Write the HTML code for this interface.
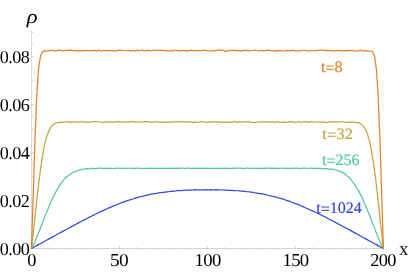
<!DOCTYPE html>
<html><head><meta charset="utf-8"><title>plot</title>
<style>
html,body{margin:0;padding:0;background:#fff;}
body{width:409px;height:273px;overflow:hidden;font-family:"Liberation Serif",serif;}
svg{display:block;will-change:transform;}
text{font-family:"Liberation Serif",serif;white-space:pre;text-rendering:geometricPrecision;}
</style></head><body>
<svg width="409" height="273" viewBox="0 0 409 273">
<rect width="409" height="273" fill="#ffffff"/>
<g fill="none">
<path stroke="#dadada" stroke-width="1" d="M31.50 30.3V248.00"/>
<path stroke="#d2d2d2" stroke-width="1" d="M31.00 248.50H383.80"/>
<path stroke="#a8a8a8" stroke-width="0.5" d="M31.50 248.50v-2.10M49.09 248.50v-1.30M66.69 248.50v-1.30M84.28 248.50v-1.30M101.88 248.50v-1.30M119.47 248.50v-2.10M137.07 248.50v-1.30M154.66 248.50v-1.30M172.26 248.50v-1.30M189.85 248.50v-1.30M207.45 248.50v-2.10M225.04 248.50v-1.30M242.64 248.50v-1.30M260.24 248.50v-1.30M277.83 248.50v-1.30M295.42 248.50v-2.10M313.02 248.50v-1.30M330.61 248.50v-1.30M348.21 248.50v-1.30M365.80 248.50v-1.30M383.40 248.50v-2.10M31.50 248.50h2.40M31.50 236.50h1.70M31.50 224.50h1.70M31.50 212.50h1.70M31.50 200.50h2.40M31.50 188.50h1.70M31.50 176.50h1.70M31.50 164.50h1.70M31.50 152.50h2.40M31.50 140.50h1.70M31.50 128.50h1.70M31.50 116.50h1.70M31.50 104.50h2.40M31.50 92.50h1.70M31.50 80.50h1.70M31.50 68.50h1.70M31.50 56.50h2.40M31.50 44.50h1.70M31.50 32.50h1.70"/>
</g>
<g fill="none" stroke-width="1.25" stroke-linejoin="round" stroke-linecap="round">
<path stroke="#3248e2" d="M31.50 248.50L33.26 247.54L35.02 246.57L36.78 245.61L38.54 244.65L40.30 243.68L42.06 242.72L43.82 241.75L45.58 240.80L47.34 239.82L49.09 238.86L50.85 237.89L52.61 236.92L54.37 235.98L56.13 235.00L57.89 234.05L59.65 233.07L61.41 232.10L63.17 231.15L64.93 230.19L66.69 229.27L68.45 228.28L70.21 227.37L71.97 226.34L73.73 225.42L75.49 224.54L77.25 223.64L79.01 222.59L80.77 221.72L82.53 220.76L84.28 219.90L86.04 218.94L87.80 218.06L89.56 217.12L91.32 216.26L93.08 215.31L94.84 214.52L96.60 213.58L98.36 212.78L100.12 211.91L101.88 211.17L103.64 210.36L105.40 209.44L107.16 208.75L108.92 207.93L110.68 207.16L112.44 206.44L114.20 205.65L115.96 205.02L117.72 204.30L119.47 203.51L121.23 202.93L122.99 202.20L124.75 201.57L126.51 200.90L128.27 200.36L130.03 199.91L131.79 199.28L133.55 198.73L135.31 198.11L137.07 197.65L138.83 197.22L140.59 196.69L142.35 196.29L144.11 195.80L145.87 195.42L147.63 194.96L149.39 194.63L151.15 194.23L152.91 193.95L154.66 193.58L156.42 193.33L158.18 192.99L159.94 192.74L161.70 192.50L163.46 192.28L165.22 192.04L166.98 191.77L168.74 191.75L170.50 191.33L172.26 191.40L174.02 191.08L175.78 190.94L177.54 190.73L179.30 190.63L181.06 190.53L182.82 190.42L184.58 190.26L186.34 190.07L188.10 190.13L189.85 190.23L191.61 190.04L193.37 189.93L195.13 189.67L196.89 189.92L198.65 189.86L200.41 189.76L202.17 189.76L203.93 189.86L205.69 189.69L207.45 189.85L209.21 189.77L210.97 189.67L212.73 189.87L214.49 189.83L216.25 189.71L218.01 189.88L219.77 189.98L221.53 190.00L223.29 189.95L225.04 190.19L226.80 190.20L228.56 190.34L230.32 190.41L232.08 190.33L233.84 190.54L235.60 190.68L237.36 190.75L239.12 190.97L240.88 191.15L242.64 191.16L244.40 191.35L246.16 191.66L247.92 191.75L249.68 191.92L251.44 192.21L253.20 192.46L254.96 192.83L256.72 193.04L258.48 193.44L260.24 193.56L261.99 193.96L263.75 194.21L265.51 194.70L267.27 194.98L269.03 195.52L270.79 195.86L272.55 196.24L274.31 196.70L276.07 197.19L277.83 197.77L279.59 198.10L281.35 198.67L283.11 199.18L284.87 199.75L286.63 200.41L288.39 200.97L290.15 201.46L291.91 202.28L293.67 202.87L295.42 203.59L297.18 204.16L298.94 204.94L300.70 205.72L302.46 206.43L304.22 207.21L305.98 208.02L307.74 208.81L309.50 209.52L311.26 210.34L313.02 211.10L314.78 211.97L316.54 212.77L318.30 213.56L320.06 214.54L321.82 215.41L323.58 216.21L325.34 217.05L327.10 218.07L328.86 219.00L330.61 219.86L332.37 220.79L334.13 221.68L335.89 222.66L337.65 223.57L339.41 224.51L341.17 225.49L342.93 226.43L344.69 227.33L346.45 228.28L348.21 229.27L349.97 230.17L351.73 231.15L353.49 232.12L355.25 233.08L357.01 234.04L358.77 235.00L360.53 235.96L362.29 236.94L364.05 237.93L365.80 238.87L367.56 239.84L369.32 240.80L371.08 241.75L372.84 242.73L374.60 243.68L376.36 244.65L378.12 245.61L379.88 246.58L381.64 247.53L383.40 248.50"/>
<path stroke="#52c8a0" d="M31.50 248.50L33.26 245.37L35.02 241.48L36.78 237.28L38.54 232.88L40.30 228.31L42.06 223.80L43.82 219.26L45.58 214.85L47.34 210.39L49.09 206.37L50.85 202.01L52.61 198.28L54.37 194.65L56.13 191.42L57.89 188.31L59.65 185.34L61.41 182.88L63.17 180.54L64.93 178.44L66.69 176.75L68.45 175.51L70.21 174.10L71.97 173.02L73.73 172.06L75.49 171.43L77.25 170.80L79.01 170.14L80.77 169.71L82.53 169.25L84.28 169.10L86.04 168.69L87.80 168.93L89.56 168.76L91.32 168.48L93.08 168.48L94.84 168.52L96.60 168.27L98.36 168.21L100.12 168.17L101.88 168.36L103.64 168.31L105.40 168.27L107.16 168.29L108.92 168.17L110.68 168.35L112.44 168.25L114.20 168.56L115.96 168.20L117.72 168.10L119.47 168.30L121.23 168.17L122.99 168.49L124.75 168.33L126.51 168.48L128.27 168.25L130.03 168.23L131.79 168.46L133.55 168.39L135.31 168.36L137.07 168.00L138.83 168.30L140.59 168.28L142.35 168.25L144.11 168.26L145.87 168.32L147.63 168.45L149.39 168.37L151.15 168.10L152.91 168.26L154.66 168.34L156.42 168.45L158.18 168.30L159.94 168.29L161.70 168.37L163.46 168.19L165.22 168.36L166.98 168.31L168.74 168.19L170.50 168.27L172.26 168.16L174.02 168.32L175.78 168.34L177.54 168.24L179.30 168.27L181.06 168.15L182.82 168.24L184.58 168.30L186.34 168.24L188.10 168.21L189.85 168.43L191.61 168.31L193.37 168.33L195.13 168.15L196.89 168.35L198.65 168.16L200.41 168.44L202.17 168.30L203.93 168.16L205.69 168.32L207.45 168.15L209.21 168.54L210.97 168.29L212.73 168.27L214.49 168.31L216.25 168.47L218.01 168.21L219.77 168.57L221.53 168.18L223.29 168.26L225.04 168.17L226.80 168.32L228.56 168.43L230.32 168.35L232.08 168.35L233.84 168.22L235.60 168.33L237.36 168.24L239.12 168.23L240.88 168.12L242.64 168.53L244.40 168.34L246.16 168.21L247.92 168.21L249.68 168.36L251.44 168.32L253.20 168.30L254.96 168.27L256.72 168.36L258.48 168.37L260.24 168.42L261.99 168.34L263.75 168.12L265.51 168.40L267.27 168.17L269.03 168.06L270.79 168.27L272.55 168.01L274.31 168.31L276.07 168.09L277.83 168.29L279.59 168.43L281.35 168.25L283.11 168.06L284.87 168.36L286.63 168.23L288.39 168.41L290.15 168.39L291.91 168.23L293.67 168.31L295.42 168.22L297.18 168.13L298.94 168.43L300.70 168.37L302.46 168.28L304.22 168.01L305.98 168.33L307.74 168.35L309.50 168.24L311.26 168.05L313.02 168.38L314.78 168.36L316.54 168.33L318.30 168.27L320.06 168.13L321.82 168.59L323.58 168.70L325.34 168.57L327.10 168.64L328.86 169.12L330.61 169.12L332.37 169.19L334.13 169.69L335.89 169.98L337.65 170.53L339.41 171.11L341.17 171.90L342.93 172.85L344.69 173.84L346.45 175.35L348.21 176.80L349.97 178.45L351.73 180.63L353.49 182.88L355.25 185.46L357.01 188.29L358.77 191.12L360.53 194.61L362.29 198.11L364.05 202.04L365.80 206.14L367.56 210.39L369.32 214.74L371.08 219.24L372.84 223.75L374.60 228.37L376.36 232.85L378.12 237.26L379.88 241.48L381.64 245.37L383.40 248.50"/>
<path stroke="#c4a540" d="M31.50 248.50L33.26 233.54L35.02 216.97L36.78 200.57L38.54 185.07L40.30 171.04L42.06 158.71L43.82 148.43L45.58 140.36L47.34 134.60L49.09 130.62L50.85 127.11L52.61 125.13L54.37 123.66L56.13 122.99L57.89 122.93L59.65 122.15L61.41 122.61L63.17 122.22L64.93 121.95L66.69 121.92L68.45 121.62L70.21 122.56L71.97 121.91L73.73 121.83L75.49 122.07L77.25 121.84L79.01 122.26L80.77 121.84L82.53 121.87L84.28 122.23L86.04 122.16L87.80 122.04L89.56 122.15L91.32 121.75L93.08 121.95L94.84 121.68L96.60 121.71L98.36 121.98L100.12 122.04L101.88 122.22L103.64 122.19L105.40 122.19L107.16 121.91L108.92 122.21L110.68 121.98L112.44 121.95L114.20 122.12L115.96 122.04L117.72 121.65L119.47 121.61L121.23 122.18L122.99 122.04L124.75 122.09L126.51 122.06L128.27 121.63L130.03 121.83L131.79 121.69L133.55 121.57L135.31 122.10L137.07 122.04L138.83 121.99L140.59 121.75L142.35 122.02L144.11 121.84L145.87 121.72L147.63 121.72L149.39 121.89L151.15 122.19L152.91 122.37L154.66 121.73L156.42 121.89L158.18 122.22L159.94 122.12L161.70 122.10L163.46 122.40L165.22 121.94L166.98 122.18L168.74 122.07L170.50 121.82L172.26 122.02L174.02 121.87L175.78 121.89L177.54 121.99L179.30 121.98L181.06 121.55L182.82 122.04L184.58 121.61L186.34 122.22L188.10 121.82L189.85 121.95L191.61 122.17L193.37 122.63L195.13 121.61L196.89 122.27L198.65 122.23L200.41 121.96L202.17 121.98L203.93 121.93L205.69 122.06L207.45 122.36L209.21 121.79L210.97 122.21L212.73 121.94L214.49 121.86L216.25 121.71L218.01 122.05L219.77 122.07L221.53 122.05L223.29 122.44L225.04 122.18L226.80 122.24L228.56 122.27L230.32 121.96L232.08 122.07L233.84 121.61L235.60 121.64L237.36 122.45L239.12 121.97L240.88 122.24L242.64 121.86L244.40 121.96L246.16 121.77L247.92 121.92L249.68 121.81L251.44 122.07L253.20 122.60L254.96 122.28L256.72 122.20L258.48 122.11L260.24 122.24L261.99 121.60L263.75 122.04L265.51 121.68L267.27 122.08L269.03 121.60L270.79 122.28L272.55 121.85L274.31 122.32L276.07 121.89L277.83 121.62L279.59 122.39L281.35 122.21L283.11 121.94L284.87 122.04L286.63 122.32L288.39 121.72L290.15 121.98L291.91 121.69L293.67 121.92L295.42 122.27L297.18 122.11L298.94 121.66L300.70 122.33L302.46 122.11L304.22 121.85L305.98 121.75L307.74 121.80L309.50 122.35L311.26 121.50L313.02 122.04L314.78 121.99L316.54 122.00L318.30 122.05L320.06 122.23L321.82 122.07L323.58 121.68L325.34 122.32L327.10 122.58L328.86 121.87L330.61 121.91L332.37 121.82L334.13 121.58L335.89 122.17L337.65 121.95L339.41 121.88L341.17 121.70L342.93 121.75L344.69 122.20L346.45 122.33L348.21 122.07L349.97 122.41L351.73 121.79L353.49 122.21L355.25 122.34L357.01 122.71L358.77 122.60L360.53 123.68L362.29 125.14L364.05 126.95L365.80 130.19L367.56 134.47L369.32 140.41L371.08 148.72L372.84 158.65L374.60 170.81L376.36 184.77L378.12 200.40L379.88 216.92L381.64 233.52L383.40 248.50"/>
<path stroke="#e5812a" d="M31.50 248.50L33.26 193.53L35.02 138.21L36.78 95.12L38.54 69.35L40.30 57.07L42.06 52.20L43.82 50.84L45.58 51.01L47.34 50.90L49.09 50.77L50.85 50.40L52.61 50.44L54.37 51.03L56.13 50.97L57.89 50.39L59.65 50.13L61.41 50.63L63.17 50.83L64.93 50.28L66.69 50.72L68.45 50.39L70.21 50.14L71.97 50.42L73.73 50.60L75.49 50.39L77.25 50.82L79.01 50.68L80.77 50.80L82.53 50.68L84.28 50.77L86.04 50.68L87.80 50.74L89.56 50.59L91.32 50.60L93.08 50.53L94.84 50.18L96.60 51.10L98.36 50.22L100.12 50.69L101.88 51.00L103.64 50.67L105.40 50.59L107.16 50.29L108.92 50.95L110.68 50.55L112.44 50.58L114.20 51.15L115.96 50.99L117.72 50.43L119.47 50.40L121.23 50.28L122.99 50.45L124.75 50.50L126.51 50.58L128.27 50.24L130.03 50.88L131.79 50.66L133.55 50.50L135.31 51.11L137.07 50.21L138.83 50.87L140.59 50.64L142.35 49.95L144.11 50.88L145.87 50.79L147.63 50.13L149.39 50.96L151.15 50.75L152.91 50.46L154.66 50.48L156.42 50.43L158.18 50.50L159.94 50.20L161.70 50.30L163.46 50.43L165.22 50.83L166.98 50.84L168.74 51.22L170.50 50.41L172.26 51.19L174.02 50.35L175.78 50.04L177.54 50.95L179.30 50.83L181.06 50.77L182.82 50.36L184.58 50.89L186.34 50.66L188.10 50.78L189.85 50.70L191.61 50.22L193.37 50.92L195.13 50.60L196.89 50.54L198.65 50.35L200.41 51.01L202.17 50.27L203.93 50.48L205.69 50.35L207.45 50.60L209.21 51.13L210.97 50.82L212.73 50.36L214.49 50.61L216.25 50.64L218.01 50.06L219.77 49.93L221.53 50.63L223.29 50.02L225.04 51.24L226.80 51.26L228.56 50.35L230.32 50.70L232.08 50.44L233.84 50.46L235.60 50.65L237.36 50.41L239.12 50.57L240.88 51.10L242.64 50.55L244.40 50.56L246.16 50.05L247.92 50.97L249.68 50.61L251.44 50.75L253.20 50.66L254.96 50.10L256.72 50.50L258.48 50.76L260.24 50.57L261.99 50.38L263.75 50.93L265.51 50.70L267.27 50.14L269.03 50.35L270.79 50.63L272.55 50.77L274.31 50.67L276.07 51.10L277.83 50.33L279.59 50.51L281.35 50.58L283.11 51.02L284.87 50.84L286.63 50.46L288.39 50.54L290.15 50.77L291.91 50.46L293.67 50.33L295.42 50.83L297.18 50.79L298.94 50.89L300.70 50.98L302.46 50.37L304.22 50.46L305.98 50.51L307.74 50.99L309.50 50.95L311.26 50.64L313.02 50.75L314.78 50.58L316.54 50.84L318.30 50.42L320.06 50.06L321.82 50.14L323.58 50.12L325.34 50.60L327.10 50.33L328.86 50.74L330.61 50.33L332.37 50.74L334.13 50.77L335.89 50.82L337.65 50.40L339.41 50.53L341.17 50.56L342.93 50.98L344.69 50.58L346.45 51.07L348.21 50.16L349.97 50.66L351.73 50.56L353.49 50.65L355.25 51.11L357.01 51.05L358.77 50.63L360.53 50.15L362.29 50.97L364.05 50.84L365.80 50.64L367.56 51.15L369.32 51.21L371.08 51.10L372.84 52.31L374.60 57.02L376.36 68.82L378.12 95.15L379.88 137.69L381.64 193.35L383.40 248.50"/>
</g>
<text transform="scale(0.9967 1)" font-size="18.20" fill="#000" x="-0.24 8.35 12.40 20.82" y="254.50">0.00</text>
<text transform="scale(0.9967 1)" font-size="18.20" fill="#000" x="-0.24 8.35 12.40 20.83" y="206.50">0.02</text>
<text transform="scale(0.9967 1)" font-size="18.20" fill="#000" x="-0.24 8.35 12.40 20.82" y="158.50">0.04</text>
<text transform="scale(0.9967 1)" font-size="18.20" fill="#000" x="-0.24 8.35 12.40 20.81" y="110.50">0.06</text>
<text transform="scale(0.9967 1)" font-size="18.20" fill="#000" x="-0.24 8.35 12.40 20.82" y="62.50">0.08</text>
<text transform="scale(1.0088 1)" font-size="18.20" fill="#000" x="27.01" y="265.95">0</text>
<text transform="scale(1.0622 1)" font-size="18.20" fill="#000" x="103.58 112.02" y="265.95">50</text>
<text transform="scale(1.0290 1)" font-size="18.20" fill="#000" x="189.08 197.52 205.95" y="265.95">100</text>
<text transform="scale(1.0290 1)" font-size="18.20" fill="#000" x="274.50 282.93 291.37" y="265.95">150</text>
<text transform="scale(1.0088 1)" font-size="18.20" fill="#000" x="367.02 375.43 383.86" y="265.95">200</text>
<text transform="scale(0.9418 1)" font-size="19.06" fill="#000" x="423.92" y="255.20">x</text>
<text transform="scale(1.1296 1)" font-size="19.94" fill="#000" font-style="italic" x="23.70" y="22.56">ρ</text>
<text transform="scale(1.0000 1)" font-size="16.00" fill="#e5812a" stroke="#e5812a" stroke-width="0.20" x="321.04 325.49 334.51" y="71.60 72.85 71.60">t=8</text>
<text transform="scale(1.0088 1)" font-size="16.00" fill="#c4a540" stroke="#c4a540" stroke-width="0.20" x="319.53 324.18 333.47 341.71" y="138.50 139.80 138.50 138.50">t=32</text>
<text transform="scale(1.0000 1)" font-size="16.00" fill="#52c8a0" stroke="#52c8a0" stroke-width="0.20" x="321.94 326.39 335.41 343.41 351.41" y="165.00 166.25 165.00 165.00 165.00">t=256</text>
<text transform="scale(1.0000 1)" font-size="16.00" fill="#3248e2" stroke="#3248e2" stroke-width="0.20" x="316.24 320.69 329.71 337.71 345.71 353.71" y="212.80 214.05 212.80 212.80 212.80 212.80">t=1024</text>
</svg>
</body></html>
